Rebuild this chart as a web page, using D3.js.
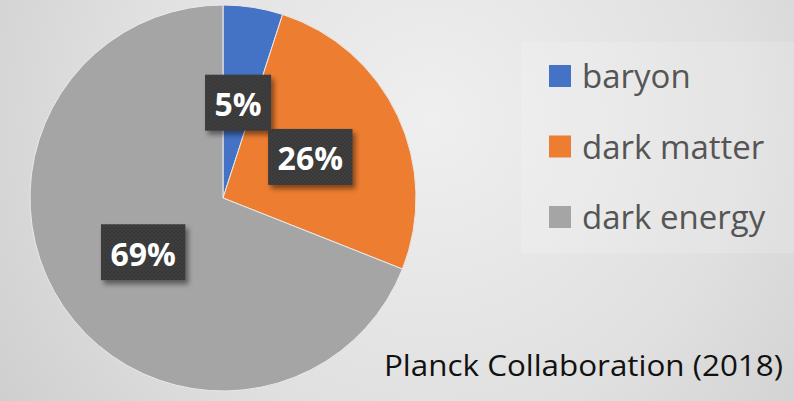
<!DOCTYPE html>
<html>
<head>
<meta charset="utf-8">
<script src="https://cdn.jsdelivr.net/npm/d3@7"></script>
<style>
  html, body { margin: 0; padding: 0; background: #e2e2e2; }
  svg { display: block; }
</style>
</head>
<body>
<svg id="chart" width="794" height="401"></svg>
<script>
// Composition of the universe
const categories = ["baryon", "dark matter", "dark energy"];
const values = [5, 26, 69];
const colors = ["#4472C4", "#ED7D31", "#A5A5A5"];
const sourceNote = "Planck Collaboration (2018)";

const W = 794, H = 401;
const svg = d3.select("#chart");
const defs = svg.append("defs");

// soft grey backdrop, brightest toward the upper middle
const bg = defs.append("radialGradient").attr("id", "bg")
  .attr("gradientUnits", "userSpaceOnUse")
  .attr("cx", 430).attr("cy", 120).attr("r", 560);
bg.append("stop").attr("offset", "0%").attr("stop-color", "#efefef");
bg.append("stop").attr("offset", "55%").attr("stop-color", "#e0e0e0");
bg.append("stop").attr("offset", "100%").attr("stop-color", "#cbcbcb");
svg.append("rect").attr("width", W).attr("height", H).attr("fill", "url(#bg)");

// label box texture and shadow
const pat = defs.append("pattern").attr("id", "dots")
  .attr("patternUnits", "userSpaceOnUse").attr("width", 4).attr("height", 4);
pat.append("rect").attr("width", 4).attr("height", 4).attr("fill", "#383838");
pat.append("circle").attr("cx", 1).attr("cy", 1).attr("r", 0.8).attr("fill", "#4a4a4a");
pat.append("circle").attr("cx", 3).attr("cy", 3).attr("r", 0.8).attr("fill", "#444444");

const sh = defs.append("filter").attr("id", "shadow")
  .attr("x", "-20%").attr("y", "-20%").attr("width", "150%").attr("height", "150%");
sh.append("feDropShadow").attr("dx", 3).attr("dy", 4).attr("stdDeviation", 2.5)
  .attr("flood-color", "#000").attr("flood-opacity", 0.45);

// legend panel
const legendX = 521, legendY = 42;
svg.append("rect")
  .attr("x", legendX).attr("y", legendY)
  .attr("width", W - legendX).attr("height", 211)
  .attr("fill", "#ffffff").attr("opacity", 0.16);

// pie
const cx = 223, cy = 198, R = 193;
const pie = d3.pie().sort(null).value(d => d)(values);
const arc = d3.arc().innerRadius(0).outerRadius(R);
const g = svg.append("g").attr("transform", `translate(${cx},${cy})`);

g.selectAll("path.slice").data(pie).join("path")
  .attr("class", "slice")
  .attr("d", arc)
  .attr("fill", (d, i) => colors[i])
  .attr("stroke", "#e9e9e9")
  .attr("stroke-width", 1);

// data labels at each slice's centroid
const fmt = v => v + "%";
const labels = g.selectAll("g.lbl").data(pie).join("g")
  .attr("class", "lbl")
  .attr("transform", d => `translate(${arc.centroid(d)})`);

labels.each(function(d) {
  const sel = d3.select(this);
  const box = sel.append("rect").attr("fill", "url(#dots)").attr("filter", "url(#shadow)");
  const t = sel.append("text")
    .attr("text-anchor", "middle")
    .attr("dominant-baseline", "central")
    .attr("y", 1)
    .attr("font-family", "Open Sans, Lato, sans-serif")
    .attr("font-weight", 700)
    .attr("font-size", 32)
    .attr("fill", "#ffffff")
    .text(fmt(d.data));
  const tw = t.node().getComputedTextLength();
  const bw = tw + 19, bh = 56;
  box.attr("x", -bw / 2).attr("y", -bh / 2).attr("width", bw).attr("height", bh);
});

// legend entries
const legend = svg.append("g");
const rowY = d3.scalePoint().domain(categories).range([76, 217]);
const items = legend.selectAll("g").data(categories).join("g")
  .attr("transform", d => `translate(0,${rowY(d)})`);
items.append("rect")
  .attr("x", 549).attr("y", -11).attr("width", 22).attr("height", 22)
  .attr("fill", (d, i) => colors[i]);
items.append("text")
  .attr("x", 582).attr("y", 12)
  .attr("font-family", "Open Sans, Lato, sans-serif")
  .attr("font-size", 33)
  .attr("fill", "#555555")
  .text(d => d);

// source note
svg.append("text")
  .attr("x", 783).attr("y", 376)
  .attr("text-anchor", "end")
  .attr("font-family", "Open Sans, Lato, sans-serif")
  .attr("font-size", 29)
  .attr("textLength", 399)
  .attr("lengthAdjust", "spacingAndGlyphs")
  .attr("fill", "#111111")
  .text(sourceNote);
</script>
</body>
</html>
